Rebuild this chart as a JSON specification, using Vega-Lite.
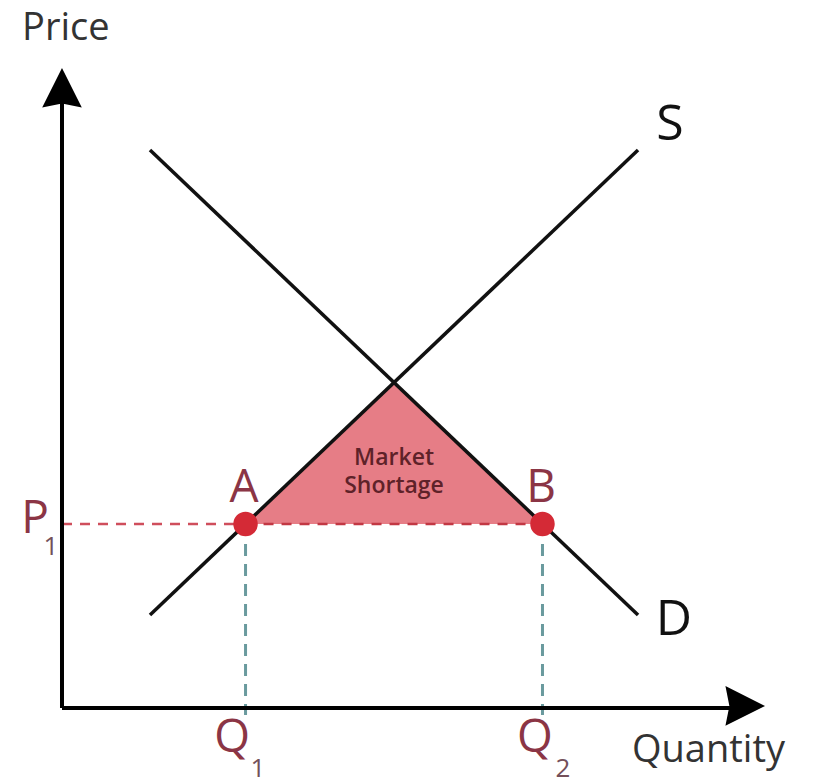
{
  "$schema": "https://vega.github.io/schema/vega-lite/v6.json",
  "width": 817,
  "height": 783,
  "padding": 0,
  "autosize": {"type": "fit", "contains": "padding"},
  "background": "white",
  "config": {"view": {"stroke": null}, "text": {"font": "Open Sans"}},
  "datasets": {
    "curves": [
      {"curve": "S", "q": 1.257, "p": 1.329},
      {"curve": "S", "q": 8.229, "p": 7.971},
      {"curve": "D", "q": 1.257, "p": 7.971},
      {"curve": "D", "q": 8.229, "p": 1.329}
    ],
    "shortage": [
      {"q": 2.622, "p": 2.629},
      {"q": 4.743, "p": 4.65},
      {"q": 6.864, "p": 2.629}
    ],
    "axes": [
      {"axis": "y", "q": 0, "p": 0, "q2": 0, "p2": 8.75},
      {"axis": "x", "q": 0, "p": 0, "q2": 9.62, "p2": 0}
    ],
    "arrows": [
      {"axis": "y", "q": 0, "p": 8.829, "angle": 0},
      {"axis": "x", "q": 9.729, "p": 0.03, "angle": 90}
    ],
    "p1line": [{"q": 0, "q2": 2.622, "p": 2.629}],
    "abline": [{"q": 2.622, "q2": 6.864, "p": 2.629}],
    "qlines": [
      {"name": "Q1", "q": 2.622, "p": 2.629, "p2": -0.1},
      {"name": "Q2", "q": 6.864, "p": 2.629, "p2": -0.1}
    ],
    "points": [
      {"name": "A", "q": 2.622, "p": 2.629},
      {"name": "B", "q": 6.864, "p": 2.629}
    ],
    "axisTitles": [
      {"label": "Price", "q": -0.571, "p": 9.54},
      {"label": "Quantity", "q": 8.143, "p": -0.771}
    ],
    "curveLabels": [
      {"label": "S", "q": 8.686, "p": 8.114},
      {"label": "D", "q": 8.743, "p": 1.043}
    ],
    "bigLetters": [
      {"label": "A", "q": 2.6, "p": 2.943},
      {"label": "B", "q": 6.843, "p": 2.943},
      {"label": "P", "q": -0.386, "p": 2.5},
      {"label": "Q", "q": 2.429, "p": -0.629},
      {"label": "Q", "q": 6.757, "p": -0.629}
    ],
    "subscripts": [
      {"label": "1", "q": -0.157, "p": 2.186},
      {"label": "1", "q": 2.8, "p": -0.99},
      {"label": "2", "q": 7.157, "p": -0.99}
    ],
    "shortageText": [
      {"label": "Market", "q": 4.743, "p": 3.471},
      {"label": "Shortage", "q": 4.743, "p": 3.071}
    ]
  },
  "encoding": {
    "x": {"field": "q", "type": "quantitative", "scale": {"domain": [-0.8857, 10.7857], "nice": false, "zero": false}, "axis": null},
    "y": {"field": "p", "type": "quantitative", "scale": {"domain": [-1.0714, 10.1143], "nice": false, "zero": false}, "axis": null}
  },
  "layer": [
    {
      "data": {"name": "shortage"},
      "mark": {"type": "area", "color": "#e67d86", "opacity": 1, "interpolate": "linear"},
      "encoding": {"y2": {"datum": 2.629}}
    },
    {
      "data": {"name": "p1line"},
      "mark": {"type": "rule", "color": "#cf4e5c", "strokeWidth": 2.5, "strokeDash": [10, 8]},
      "encoding": {"x2": {"field": "q2"}}
    },
    {
      "data": {"name": "abline"},
      "mark": {"type": "rule", "color": "#c23844", "strokeWidth": 2.5, "strokeDash": [10, 8]},
      "encoding": {"x2": {"field": "q2"}}
    },
    {
      "data": {"name": "qlines"},
      "mark": {"type": "rule", "color": "#6a9a9e", "strokeWidth": 3, "strokeDash": [12, 8]},
      "encoding": {"y2": {"field": "p2"}}
    },
    {
      "data": {"name": "axes"},
      "mark": {"type": "rule", "color": "#000000", "strokeWidth": 4},
      "encoding": {"x2": {"field": "q2"}, "y2": {"field": "p2"}}
    },
    {
      "data": {"name": "arrows"},
      "mark": {"type": "point", "shape": "M0,-1L0.9,0.8L0,0.62L-0.9,0.8Z", "size": 1936, "filled": true, "color": "#000000", "opacity": 1},
      "encoding": {"angle": {"field": "angle", "type": "quantitative", "scale": null}}
    },
    {
      "data": {"name": "curves"},
      "mark": {"type": "line", "color": "#111111", "strokeWidth": 3.5},
      "encoding": {"detail": {"field": "curve"}}
    },
    {
      "data": {"name": "points"},
      "mark": {"type": "circle", "size": 600, "color": "#d42a36", "opacity": 1},
      "encoding": {}
    },
    {
      "data": {"name": "axisTitles"},
      "mark": {"type": "text", "align": "left", "baseline": "alphabetic", "fontSize": 38, "color": "#333333"},
      "encoding": {"text": {"field": "label"}}
    },
    {
      "data": {"name": "curveLabels"},
      "mark": {"type": "text", "align": "center", "baseline": "alphabetic", "fontSize": 50, "color": "#111111"},
      "encoding": {"text": {"field": "label"}}
    },
    {
      "data": {"name": "bigLetters"},
      "mark": {"type": "text", "align": "center", "baseline": "alphabetic", "fontSize": 46, "color": "#8b3545"},
      "encoding": {"text": {"field": "label"}}
    },
    {
      "data": {"name": "subscripts"},
      "mark": {"type": "text", "align": "center", "baseline": "alphabetic", "fontSize": 26, "color": "#74505a"},
      "encoding": {"text": {"field": "label"}}
    },
    {
      "data": {"name": "shortageText"},
      "mark": {"type": "text", "align": "center", "baseline": "alphabetic", "fontSize": 23, "fontWeight": 600, "color": "#5e2229"},
      "encoding": {"text": {"field": "label"}}
    }
  ]
}
